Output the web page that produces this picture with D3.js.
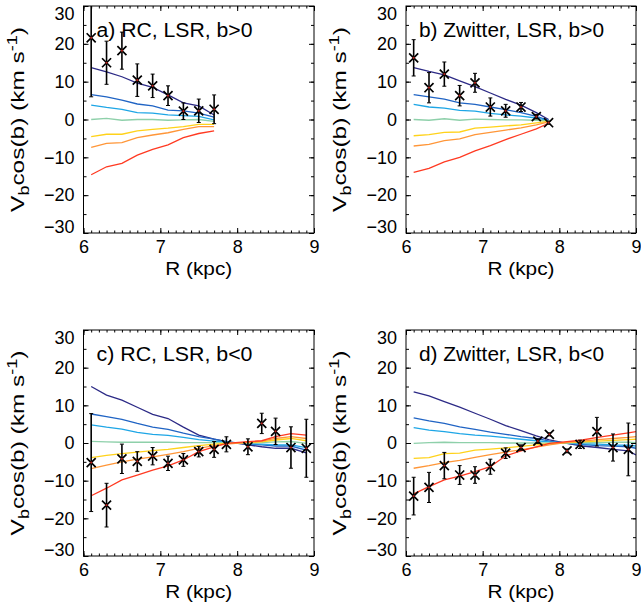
<!DOCTYPE html>
<html><head><meta charset="utf-8">
<script src="https://cdn.jsdelivr.net/npm/d3@7"></script>
<style>
body{margin:0;background:#fff}
svg{display:block;font-family:"Liberation Sans",Arial,Helvetica,sans-serif}
</style>
</head><body>
<svg id="chart" width="641" height="616"></svg>
<script>
// ---- data ----
const modelColors = ["#2c2a86","#2064c4","#1ea6e6","#8ed0aa","#ffd21a","#ff9638","#ff3a22"];
const xTicks = [6,7,8,9];
const yTicks = [-30,-20,-10,0,10,20,30];
const titles = ["a) RC, LSR, b>0","b) Zwitter, LSR, b>0","c) RC, LSR, b<0","d) Zwitter, LSR, b<0"];
const xTitle = "R (kpc)";

// panel a
const rA = [6.1,6.3,6.5,6.7,6.9,7.1,7.3,7.5,7.7];
const vA = [21.6,15.0,18.2,10.4,8.9,6.3,2.2,2.3,2.7];
const eA = [15.6,5.7,4.9,4.3,3.1,2.6,2.2,3.1,3.8];
const mA = [
  [13.7,12.6,11.3,9.6,8.5,6.5,4.4,3.6,1.2],
  [6.6,6.0,5.1,4.1,3.6,2.5,2.3,1.7,0.6],
  [3.8,3.2,2.7,1.8,1.7,1.2,1.0,0.8,-0.1],
  [0.0,0.3,-0.2,0.0,0.0,-0.2,-0.1,0.0,-0.5],
  [-4.5,-3.9,-3.9,-3.0,-2.6,-2.3,-1.9,-1.3,-1.3],
  [-7.4,-6.3,-6.1,-4.8,-4.1,-3.5,-2.6,-1.9,-1.9],
  [-14.6,-12.5,-11.6,-9.4,-7.9,-6.7,-4.8,-3.7,-3.0]
];

// panel b
const rB = [6.1,6.3,6.5,6.7,6.9,7.1,7.3,7.5,7.7,7.86];
const vB = [16.3,8.4,12.0,6.3,9.7,3.3,2.3,3.3,0.75,-0.85];
const eB = [4.8,4.0,3.2,2.7,2.5,2.4,1.7,1.2,0.6,0.4];
const mB = [
  [13.7,12.7,11.8,10.2,8.7,7.0,5.3,3.8,1.8,0.0],
  [6.6,6.0,5.4,4.4,4.0,3.3,2.6,1.8,0.8,-0.2],
  [4.0,3.3,3.0,2.4,2.2,1.6,1.2,0.9,0.4,-0.3],
  [0.0,-0.2,0.2,-0.2,0.1,0.0,-0.1,-0.1,-0.2,-0.4],
  [-4.3,-4.0,-3.4,-3.3,-2.3,-2.0,-1.7,-1.4,-0.9,-0.5],
  [-7.0,-6.6,-5.6,-5.1,-4.0,-3.4,-2.8,-2.2,-1.4,-0.6],
  [-14.0,-12.9,-11.2,-10.0,-8.3,-6.9,-5.3,-3.9,-2.5,-1.0]
];

// panel c
const rC = [6.1,6.3,6.5,6.7,6.9,7.1,7.3,7.5,7.7,7.86,8.14,8.32,8.5,8.7,8.9];
const vC = [-5.2,-16.5,-4.2,-4.9,-3.5,-5.4,-4.5,-2.3,-1.7,-0.35,-1.0,5.2,3.1,-1.2,-1.4];
const eC = [13.0,5.8,3.9,2.6,2.3,1.9,1.7,1.4,2.1,2.0,2.1,2.7,3.5,5.5,7.7];
const mC = [
  [15.0,12.7,11.4,9.5,7.6,6.5,4.2,2.1,1.0,0.35,-0.5,-1.0,-1.4,-1.4,-2.6],
  [7.7,7.0,6.3,5.2,4.2,3.6,2.6,1.7,1.0,0.35,-0.3,-0.5,-0.8,-0.8,-1.9],
  [4.8,4.2,3.7,2.8,2.3,2.0,1.5,0.9,0.5,0.2,-0.2,-0.3,-0.5,-0.5,-1.2],
  [0.45,0.3,0.2,0.2,0.2,0.2,0.1,0.1,0.1,0.05,0.0,0.1,0.3,0.4,-0.1],
  [-3.9,-3.3,-2.8,-2.4,-2.0,-1.7,-1.2,-0.7,-0.3,-0.1,0.1,0.3,0.8,1.2,0.6],
  [-6.8,-5.9,-5.0,-4.3,-3.7,-3.0,-2.3,-1.4,-0.7,-0.3,0.2,0.5,1.2,1.7,1.2],
  [-14.0,-12.0,-9.8,-8.5,-7.2,-6.1,-4.5,-2.3,-1.0,-0.1,0.35,0.6,1.7,2.5,2.1]
];

// panel d
const rD = [6.1,6.3,6.5,6.7,6.9,7.1,7.3,7.5,7.72,7.87,8.1,8.27,8.49,8.7,8.9];
const vD = [-14.1,-11.8,-6.0,-8.5,-8.5,-6.3,-2.7,-1.2,0.5,2.3,-2.1,-0.35,3.0,-1.2,-1.7];
const eD = [5.0,4.0,3.5,2.5,2.2,2.0,1.4,0.7,0.6,0.4,0.5,1.1,3.8,3.6,7.0];
const mRD = [6.1,6.3,6.5,6.7,6.9,7.1,7.3,7.5,7.7,7.87,8.1,8.3,8.5,8.7,8.9,9.0];
const mD = [
  [13.6,12.5,11.0,9.5,7.9,6.3,4.6,3.3,1.9,0.8,-0.1,-0.8,-1.2,-1.7,-2.1,-3.2],
  [6.7,5.9,5.2,4.3,3.6,2.9,2.3,1.7,1.2,0.5,-0.1,-0.4,-0.7,-0.8,-1.0,-1.4],
  [4.1,3.4,3.0,2.5,2.1,1.8,1.4,1.0,0.6,0.3,0.0,-0.2,-0.3,-0.5,-0.6,-0.8],
  [-0.1,0.1,0.2,0.1,0.1,0.1,0.0,0.0,0.0,0.0,0.0,0.1,0.1,0.2,0.2,0.1],
  [-4.1,-3.9,-2.8,-2.7,-1.9,-1.6,-1.3,-0.9,-0.5,-0.2,0.1,0.3,0.5,0.7,0.9,1.0],
  [-6.7,-6.0,-5.2,-4.6,-3.8,-3.1,-2.4,-1.8,-1.1,-0.5,0.2,0.5,0.9,1.2,1.5,1.7],
  [-13.5,-11.6,-9.8,-8.8,-7.6,-6.3,-3.4,-2.1,-1.0,-0.1,0.35,0.8,1.5,2.1,2.7,3.0]
];

// ---- drawing ----
const svg = d3.select("#chart");
const font = '"Liberation Sans",Arial,Helvetica,sans-serif';

const panels = [
  {title:titles[0], x0:83.5, x1:314, y0:6,   y1:233, r:rA, v:vA, e:eA, mr:rA,  m:mA},
  {title:titles[1], x0:406,  x1:636, y0:6,   y1:233, r:rB, v:vB, e:eB, mr:rB,  m:mB},
  {title:titles[2], x0:83.5, x1:314, y0:330, y1:556, r:rC, v:vC, e:eC, mr:rC,  m:mC},
  {title:titles[3], x0:406,  x1:636, y0:330, y1:556, r:rD, v:vD, e:eD, mr:mRD, m:mD}
];

panels.forEach((p, i) => {
  const x = d3.scaleLinear().domain([6,9]).range([p.x0, p.x1]);
  const y = d3.scaleLinear().domain([-30,30]).range([p.y1, p.y0]);
  const g = svg.append("g");

  const clipId = "clip" + i;
  svg.append("clipPath").attr("id", clipId).append("rect")
    .attr("x", p.x0).attr("y", p.y0).attr("width", p.x1 - p.x0).attr("height", p.y1 - p.y0);

  const plot = g.append("g").attr("clip-path", `url(#${clipId})`);

  // model lines
  const line = d3.line().x((d,j) => x(p.mr[j])).y(d => y(d));
  p.m.forEach((series, k) => {
    plot.append("path").datum(series)
      .attr("d", line).attr("fill","none")
      .attr("stroke", modelColors[k]).attr("stroke-width", 1.3);
  });

  // error bars
  const eb = plot.append("g").attr("stroke","#000").attr("stroke-width",1.6);
  p.r.forEach((r, j) => {
    const cx = x(r), lo = y(p.v[j] - p.e[j]), hi = y(p.v[j] + p.e[j]);
    eb.append("line").attr("x1",cx).attr("x2",cx).attr("y1",lo).attr("y2",hi);
    eb.append("line").attr("x1",cx-2).attr("x2",cx+2).attr("y1",lo).attr("y2",lo).attr("stroke-width",1);
    eb.append("line").attr("x1",cx-2).attr("x2",cx+2).attr("y1",hi).attr("y2",hi).attr("stroke-width",1);
  });

  // asterisk markers
  const mk = plot.append("g");
  p.r.forEach((r, j) => {
    const cx = x(r), cy = y(p.v[j]);
    mk.append("path").attr("d", d3.symbol().type(d3.symbolTimes).size(55)())
      .attr("transform", `translate(${cx},${cy})`)
      .attr("stroke","#000").attr("stroke-width",1.7).attr("fill","none");
    mk.append("path").attr("d", d3.symbol().type(d3.symbolPlus).size(40)())
      .attr("transform", `translate(${cx},${cy})`)
      .attr("fill","#000");
    mk.append("circle").attr("cx",cx).attr("cy",cy).attr("r",1.1).attr("fill","#b0201a");
  });

  // axes (ticks inward)
  const minorX = d3.range(60, 91).map(v => v/10);
  const minorY = d3.range(-30, 31, 5);
  const bottom = g.append("g").attr("transform",`translate(0,${p.y1})`);
  bottom.call(d3.axisBottom(x).tickValues(minorX).tickSize(-2.5).tickFormat(""));
  bottom.append("g").call(d3.axisBottom(x).tickValues(xTicks).tickSize(-5).tickPadding(7).tickFormat(d3.format("d")));
  const top = g.append("g").attr("transform",`translate(0,${p.y0})`);
  top.call(d3.axisTop(x).tickValues(minorX).tickSize(-2.5).tickFormat(""));
  top.append("g").call(d3.axisTop(x).tickValues(xTicks).tickSize(-5).tickFormat(""));
  const left = g.append("g").attr("transform",`translate(${p.x0},0)`);
  left.call(d3.axisLeft(y).tickValues(minorY).tickSize(-3).tickFormat(""));
  const leftMajor = left.append("g").call(d3.axisLeft(y).tickValues(yTicks).tickSize(-5).tickPadding(9).tickFormat(d3.format("d")));
  const right = g.append("g").attr("transform",`translate(${p.x1},0)`);
  right.call(d3.axisRight(y).tickValues(minorY).tickSize(-3).tickFormat(""));
  right.append("g").call(d3.axisRight(y).tickValues(yTicks).tickSize(-5).tickFormat(""));
  g.selectAll(".domain").remove();
  g.selectAll(".tick line").attr("stroke","#000").attr("stroke-width",1);
  g.selectAll(".tick text").attr("font-size",18).attr("font-family",font).attr("fill","#000");
  // IDL-style: outermost y labels pulled inside the frame height
  leftMajor.selectAll(".tick text").attr("dy", d => d === 30 ? "0.75em" : d === -30 ? "-0.05em" : "0.32em");

  // frame
  g.append("rect").attr("x",p.x0).attr("y",p.y0).attr("width",p.x1-p.x0).attr("height",p.y1-p.y0)
    .attr("fill","none").attr("stroke","#000").attr("stroke-width",1);

  // panel title
  g.append("text").attr("x", p.x0 + 13).attr("y", p.y0 + 31)
    .attr("font-size",20).attr("font-family",font).attr("fill","#000")
    .attr("textLength", i % 2 === 0 ? 156 : 185).attr("lengthAdjust","spacingAndGlyphs")
    .text(p.title);

  // x title
  g.append("text").attr("x",(p.x0+p.x1)/2).attr("y",p.y1+42).attr("text-anchor","middle")
    .attr("font-size",19).attr("font-family",font).attr("fill","#000")
    .attr("textLength",67).attr("lengthAdjust","spacingAndGlyphs").text(xTitle);

  // y title
  const cy = (p.y0 + p.y1)/2;
  const yg = g.append("g");
  const yt = yg.append("text").attr("text-anchor","middle").attr("font-size",19)
    .attr("font-family",font).attr("fill","#000");
  yt.append("tspan").text("V");
  yt.append("tspan").attr("font-size",14).attr("dy",5).text("b");
  yt.append("tspan").attr("dy",-5).text("cos(b) (km s");
  yt.append("tspan").attr("font-size",14).attr("dy",-7).text("-1");
  yt.append("tspan").attr("dy",7).text(")");
  const w = yt.node().getComputedTextLength();
  const sx = 185 / w;
  yg.attr("transform",`translate(${p.x0-60},${cy}) rotate(-90) scale(${sx},1)`);
});
</script>
</body></html>
